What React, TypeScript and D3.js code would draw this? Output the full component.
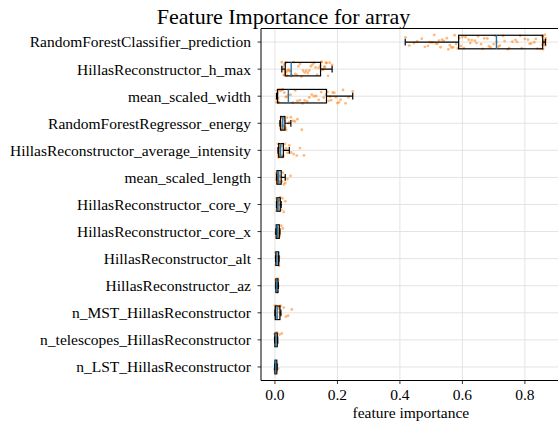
import React from "react";
import * as d3 from "d3";

const features = [
  "RandomForestClassifier_prediction",
  "HillasReconstructor_h_max",
  "mean_scaled_width",
  "RandomForestRegressor_energy",
  "HillasReconstructor_average_intensity",
  "mean_scaled_length",
  "HillasReconstructor_core_y",
  "HillasReconstructor_core_x",
  "HillasReconstructor_alt",
  "HillasReconstructor_az",
  "n_MST_HillasReconstructor",
  "n_telescopes_HillasReconstructor",
  "n_LST_HillasReconstructor",
];

const whiskerLow = [0.417, 0.022, 0.005, 0.016, 0.0096, 0.005, 0.005, 0.003, 0.002, 0.002, 0.0, -0.001, -0.001];
const q1 = [0.588, 0.033, 0.0085, 0.018, 0.012, 0.0064, 0.0064, 0.004, 0.003, 0.003, 0.001, 0.0, 0.0];
const median = [0.709, 0.052, 0.043, 0.025, 0.018, 0.012, 0.01, 0.008, 0.006, 0.005, 0.007, 0.003, 0.002];
const q3 = [0.857, 0.146, 0.165, 0.032, 0.027, 0.02, 0.017, 0.014, 0.012, 0.0096, 0.016, 0.0075, 0.006];
const whiskerHigh = [0.866, 0.183, 0.249, 0.051, 0.046, 0.033, 0.02, 0.016, 0.013, 0.011, 0.019, 0.009, 0.007];

const pts0 = [0.418, 0.43, 0.445, 0.455, 0.47, 0.48, 0.49, 0.495, 0.5, 0.505, 0.51, 0.515, 0.52, 0.525, 0.53, 0.535, 0.54, 0.55, 0.555, 0.56, 0.565, 0.57, 0.575, 0.58, 0.585,
  0.59, 0.595, 0.6, 0.605, 0.61, 0.62, 0.625, 0.63, 0.64, 0.645, 0.65, 0.66, 0.665, 0.67, 0.68, 0.685, 0.69, 0.7, 0.705,
  0.71, 0.715, 0.72, 0.73, 0.735, 0.745, 0.75, 0.76, 0.77, 0.775, 0.785, 0.79, 0.8, 0.81, 0.815, 0.82, 0.83, 0.835, 0.84, 0.85,
  0.855, 0.856, 0.857, 0.858, 0.859, 0.86, 0.861, 0.862, 0.863, 0.864, 0.865, 0.866, 0.866];
const pts1 = [0.022, 0.025, 0.028, 0.03, 0.031, 0.032, 0.033, 0.035, 0.037, 0.039, 0.041, 0.044, 0.047, 0.05, 0.052,
  0.055, 0.06, 0.065, 0.07, 0.075, 0.08, 0.085, 0.09, 0.095, 0.1, 0.105, 0.11, 0.115, 0.12, 0.125, 0.13, 0.135, 0.14, 0.145,
  0.148, 0.15, 0.152, 0.155, 0.158, 0.16, 0.163, 0.166, 0.17, 0.175, 0.183];
const pts2 = [0.005, 0.006, 0.007, 0.008, 0.009, 0.01, 0.012, 0.015, 0.018, 0.022, 0.026, 0.03, 0.034, 0.038, 0.043,
  0.05, 0.057, 0.065, 0.072, 0.08, 0.088, 0.095, 0.103, 0.11, 0.118, 0.125, 0.132, 0.14, 0.148, 0.156, 0.163,
  0.168, 0.172, 0.176, 0.18, 0.185, 0.19, 0.195, 0.2, 0.205, 0.21, 0.218, 0.226, 0.235, 0.249];
const pts3 = [0.016, 0.017, 0.018, 0.019, 0.02, 0.021, 0.022, 0.024, 0.025, 0.026, 0.027, 0.028, 0.03, 0.031, 0.032, 0.034, 0.036, 0.039, 0.042, 0.046, 0.051, 0.058, 0.064, 0.072, 0.086];
const pts4 = [0.0096, 0.01, 0.011, 0.012, 0.013, 0.014, 0.015, 0.016, 0.017, 0.018, 0.019, 0.021, 0.023, 0.025, 0.027, 0.029, 0.032, 0.036, 0.04, 0.046, 0.052, 0.06, 0.07, 0.08, 0.093];
const pts5 = [0.005, 0.006, 0.0065, 0.007, 0.008, 0.009, 0.01, 0.011, 0.012, 0.013, 0.015, 0.017, 0.019, 0.02, 0.022, 0.025, 0.029, 0.033, 0.04, 0.05];
const pts6 = [0.005, 0.006, 0.0065, 0.007, 0.008, 0.009, 0.01, 0.011, 0.013, 0.015, 0.017, 0.018, 0.02, 0.024, 0.028, 0.033];
const pts7 = [0.003, 0.004, 0.005, 0.006, 0.007, 0.008, 0.009, 0.011, 0.012, 0.014, 0.015, 0.016, 0.02, 0.025];
const pts8 = [0.002, 0.003, 0.0035, 0.004, 0.005, 0.006, 0.007, 0.008, 0.01, 0.012, 0.013, 0.013];
const pts9 = [0.002, 0.003, 0.0035, 0.004, 0.0045, 0.005, 0.006, 0.007, 0.008, 0.0096, 0.01, 0.011];
const pts10 = [0.0, 0.001, 0.002, 0.003, 0.004, 0.005, 0.006, 0.007, 0.009, 0.011, 0.013, 0.016, 0.018, 0.019, 0.028, 0.035, 0.042, 0.054];
const pts11 = [-0.001, 0.0, 0.0005, 0.001, 0.002, 0.003, 0.004, 0.005, 0.0075, 0.009, 0.015, 0.022];
const pts12 = [-0.001, 0.0, 0.0005, 0.001, 0.002, 0.003, 0.004, 0.006, 0.007, 0.01];

const points = [pts0, pts1, pts2, pts3, pts4, pts5, pts6, pts7, pts8, pts9, pts10, pts11, pts12];

const xTicks = [0.0, 0.2, 0.4, 0.6, 0.8];
const title = "Feature Importance for array";
const xLabel = "feature importance";

const W = 558;
const H = 422;
const left = 261;
const right = 560.7;
const top = 28.5;
const bottom = 380.5;
const FONT = "'Liberation Serif', 'DejaVu Serif', serif";

export default function App() {
  const x = d3.scaleLinear().domain([-0.0446, 0.9146]).range([left, right]);
  const y = d3.scaleLinear().domain([0.5, features.length + 0.5]).range([top, bottom]);
  const rowH = y(2) - y(1);
  const boxH = rowH * 0.5;
  const capH = boxH * 0.5;
  // deterministic vertical jitter (layout only)
  const jitter = (i: number) => {
    const s = Math.sin(i * 12.9898 + 78.233) * 43758.5453;
    return ((s - Math.floor(s)) - 0.5) * 0.55 * rowH;
  };

  return (
    <svg width={W} height={H} style={{ position: "absolute", left: 0, top: 0, background: "#fff" }}
      fontFamily={FONT}>
      <defs>
        <clipPath id="plotclip">
          <rect x={left} y={top} width={right - left} height={bottom - top} />
        </clipPath>
      </defs>
      {/* grid */}
      <g stroke="#e3e3e3" strokeWidth={1}>
        {xTicks.map((t) => (
          <line key={"gx" + t} x1={x(t)} x2={x(t)} y1={top} y2={bottom} />
        ))}
        {features.map((f, i) => (
          <line key={"gy" + f} x1={left} x2={right} y1={y(i + 1)} y2={y(i + 1)} />
        ))}
      </g>
      <g clipPath="url(#plotclip)">
        {points.map((arr, i) => (
          <g key={"pts" + i} fill="#ff7f0e" fillOpacity={0.55}>
            {arr.map((v, j) => (
              <circle key={j} cx={x(v)} cy={y(i + 1) + jitter(j + i * 101)} r={1.4} />
            ))}
          </g>
        ))}
        {features.map((f, i) => {
          const cy = y(i + 1);
          return (
            <g key={"box" + f} fill="none">
              <line x1={x(whiskerLow[i])} x2={x(q1[i])} y1={cy} y2={cy} stroke="#000" strokeWidth={1.2} />
              <line x1={x(q3[i])} x2={x(whiskerHigh[i])} y1={cy} y2={cy} stroke="#000" strokeWidth={1.2} />
              <line x1={x(whiskerLow[i])} x2={x(whiskerLow[i])} y1={cy - capH / 2} y2={cy + capH / 2} stroke="#000" strokeWidth={1.2} />
              <line x1={x(whiskerHigh[i])} x2={x(whiskerHigh[i])} y1={cy - capH / 2} y2={cy + capH / 2} stroke="#000" strokeWidth={1.2} />
              <rect x={x(q1[i])} y={cy - boxH / 2} width={Math.max(0, x(q3[i]) - x(q1[i]))} height={boxH} stroke="#000" strokeWidth={1.2} />
              <line x1={x(median[i])} x2={x(median[i])} y1={cy - boxH / 2} y2={cy + boxH / 2} stroke="#1f77b4" strokeWidth={1.4} />
            </g>
          );
        })}
      </g>
      {/* spines */}
      <g stroke="#000" strokeWidth={1} fill="none">
        <line x1={left} x2={left} y1={top} y2={bottom} />
        <line x1={left} x2={right} y1={top} y2={top} />
        <line x1={left} x2={right} y1={bottom} y2={bottom} />
        <line x1={right} x2={right} y1={top} y2={bottom} />
      </g>
      {/* y ticks */}
      {features.map((f, i) => (
        <g key={"yt" + f}>
          <line x1={left - 3.5} x2={left} y1={y(i + 1)} y2={y(i + 1)} stroke="#000" strokeWidth={0.8} />
          <text x={251} y={y(i + 1)} dy="0.35em" textAnchor="end" fontSize={15.5} fill="#000">{f}</text>
        </g>
      ))}
      {/* x ticks */}
      {xTicks.map((t) => (
        <g key={"xt" + t}>
          <line x1={x(t)} x2={x(t)} y1={bottom} y2={bottom + 3.5} stroke="#000" strokeWidth={0.8} />
          <text x={x(t)} y={400} textAnchor="middle" fontSize={15.5} fill="#000">{d3.format(".1f")(t)}</text>
        </g>
      ))}
      <text x={(left + right) / 2} y={418} textAnchor="middle" fontSize={15.5} fill="#000">{xLabel}</text>
      <text x={283.5} y={24} textAnchor="middle" fontSize={22} fill="#000">{title}</text>
    </svg>
  );
}
